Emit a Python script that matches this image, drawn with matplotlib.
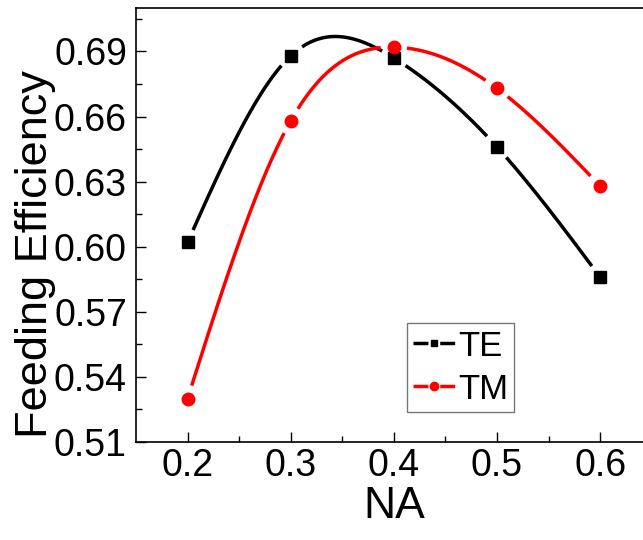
import numpy as np
import matplotlib
matplotlib.use('Agg')
import matplotlib.pyplot as plt
from matplotlib.lines import Line2D

# the reference is a bit squashed sideways, so a narrow face fits best
NARROW = ['Liberation Sans Narrow', 'Liberation Sans', 'DejaVu Sans']
plt.rcParams['font.family'] = NARROW

na = [0.2, 0.3, 0.4, 0.5, 0.6]
te = [0.602, 0.688, 0.687, 0.646, 0.586]
tm = [0.530, 0.658, 0.692, 0.673, 0.628]

FIG_W, FIG_H, DPI = 6.43, 5.40, 100
LW = 2.5
GAP_PX = 13


def natural_spline(x, y, n=300):
    # smooth connecting curve (Origin-style spline line)
    x = np.asarray(x, float)
    y = np.asarray(y, float)
    k = len(x)
    h = np.diff(x)
    A = np.zeros((k, k))
    b = np.zeros(k)
    A[0, 0] = A[-1, -1] = 1
    for i in range(1, k - 1):
        A[i, i - 1] = h[i - 1]
        A[i, i] = 2 * (h[i - 1] + h[i])
        A[i, i + 1] = h[i]
        b[i] = 6 * ((y[i + 1] - y[i]) / h[i] - (y[i] - y[i - 1]) / h[i - 1])
    M = np.linalg.solve(A, b)
    xs = np.linspace(x[0], x[-1], n)
    idx = np.clip(np.searchsorted(x, xs) - 1, 0, k - 2)
    x0, x1 = x[idx], x[idx + 1]
    hh = x1 - x0
    t0, t1 = x1 - xs, xs - x0
    ys = (M[idx] * t0**3 + M[idx + 1] * t1**3) / (6 * hh) \
        + (y[idx] / hh - M[idx] * hh / 6) * t0 \
        + (y[idx + 1] / hh - M[idx + 1] * hh / 6) * t1
    return xs, ys


def gapped_line(ax, x, y, color):
    xs, ys = natural_spline(x, y)
    pts = ax.transData.transform(np.column_stack([xs, ys]))
    mk = ax.transData.transform(np.column_stack([x, y]))
    d = np.min(np.hypot(pts[:, None, 0] - mk[None, :, 0],
                        pts[:, None, 1] - mk[None, :, 1]), axis=1)
    ys = np.where(d < GAP_PX, np.nan, ys)
    ax.plot(xs, ys, color=color, lw=LW, solid_capstyle='butt', zorder=2)


fig = plt.figure(figsize=(FIG_W, FIG_H), dpi=DPI)
ax = fig.add_axes([0.2115, 0.1815, 0.802, 0.8035])
ax.set_xlim(0.15, 0.65)
ax.set_ylim(0.51, 0.71)

gapped_line(ax, na, te, 'black')
gapped_line(ax, na, tm, 'red')
ax.plot(na, te, ls='none', marker='s', ms=8, color='black', zorder=3)
ax.plot(na, tm, ls='none', marker='o', ms=9, color='red', zorder=4)

ax.set_xticks([0.2, 0.3, 0.4, 0.5, 0.6])
ax.set_xticks([0.25, 0.35, 0.45, 0.55], minor=True)
ax.set_yticks([0.51, 0.54, 0.57, 0.60, 0.63, 0.66, 0.69])
ax.set_yticks([0.525, 0.555, 0.585, 0.615, 0.645, 0.675, 0.705], minor=True)
ax.set_xticklabels(['0.2', '0.3', '0.4', '0.5', '0.6'])
ax.set_yticklabels(['0.51', '0.54', '0.57', '0.60', '0.63', '0.66', '0.69'])
ax.tick_params(which='major', direction='in', length=7, width=1,
               labelsize=27, pad=6.5)
ax.tick_params(which='minor', direction='in', length=4, width=1)
ax.tick_params(axis='x', which='major', pad=4.5)
for s in ax.spines.values():
    s.set_linewidth(1.2)

ax.set_xlabel('NA', fontsize=32, labelpad=1)
ax.set_ylabel('Feeding Efficiency', fontsize=32.5,
              family=['Liberation Sans', 'DejaVu Sans'])
ax.yaxis.set_label_coords(-0.155, 0.434)

handles = [
    Line2D([], [], color='black', lw=LW, marker='s', ms=5, dashes=(4.3, 3.4)),
    Line2D([], [], color='red', lw=LW, marker='o', ms=6, dashes=(4.3, 3.4)),
]
leg = fig.legend(handles, ['TE', 'TM'], loc='upper left',
                 bbox_to_anchor=(406.7 / 643, 1 - 323.3 / 540), fontsize=25,
                 frameon=True, fancybox=False, edgecolor='#555555',
                 borderpad=0.18, handlelength=1.2, handletextpad=0.1,
                 labelspacing=0.29, borderaxespad=0, numpoints=1)
leg.get_frame().set_linewidth(1.0)

fig.savefig('out.png', dpi=DPI, facecolor='white')
